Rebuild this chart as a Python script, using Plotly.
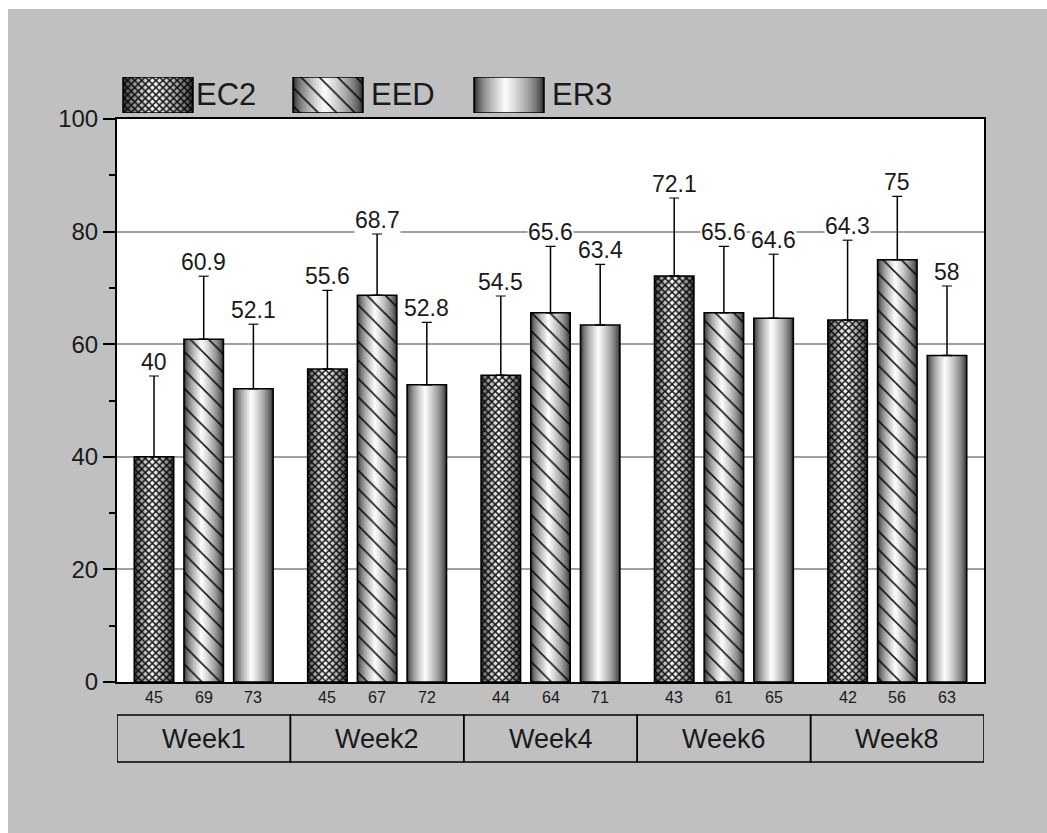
import plotly.graph_objects as go

# ---------------- data ----------------
weeks = ["Week1", "Week2", "Week4", "Week6", "Week8"]
series_names = ["EC2", "EED", "ER3"]
ec2 = [40, 55.6, 54.5, 72.1, 64.3]
eed = [60.9, 68.7, 65.6, 65.6, 75]
er3 = [52.1, 52.8, 63.4, 64.6, 58]
ec2_err = [14.4, 14.0, 14.1, 13.9, 14.2]
eed_err = [11.2, 10.9, 11.8, 11.8, 11.3]
er3_err = [11.5, 11.1, 10.8, 11.4, 12.4]
ec2_n = [45, 45, 44, 43, 42]
eed_n = [69, 67, 64, 61, 56]
er3_n = [73, 72, 71, 65, 63]
y_ticks = [0, 20, 40, 60, 80, 100]

values = [ec2, eed, er3]
errors = [ec2_err, eed_err, er3_err]
counts = [ec2_n, eed_n, er3_n]
patterns = ["x", "\\", ""]

# ---------------- styling / layout constants ----------------
FONT = "Arial, Liberation Sans, sans-serif"
TXT = "#1a1a1a"
FW, FH = 1047, 833
ML, MT = 117, 70
PW, PH = 867, 612
MR, MB = FW - ML - PW, FH - MT - PH
YDOM_TOP = 563 / PH
SLOT = 0.2866          # distance between bars within a group (category units)
BAR_W = 0.228          # bar width (category units)
N_LAYERS = 24
HL = 0.45              # position of highlight across the bar


def py2paper(py):
    return (682 - py) / PH


def px2paper(px):
    return (px - ML) / PW


def gray(t):
    v = int(round(35 + 220 * t ** 0.6))
    return f"rgb({v},{v},{v})"


def pat(shape):
    size, sol = (5, 0.5) if shape == "x" else (13, 0.12)
    return dict(shape=shape, size=size, solidity=sol, fgcolor="black",
                bgcolor="rgba(0,0,0,0)", fillmode="replace", fgopacity=0.9)


fig = go.Figure()

centers = [[i + (s - 1) * SLOT for i in range(len(weeks))] for s in range(3)]
all_c = [c for s in range(3) for c in centers[s]]
all_v = [v for s in range(3) for v in values[s]]

# cylinder gradient: nested layers
for k in range(N_LAYERS):
    t = k / N_LAYERS
    left = -BAR_W / 2 + t * HL * BAR_W
    right = BAR_W / 2 - t * (1 - HL) * BAR_W
    mid = (left + right) / 2
    fig.add_trace(go.Bar(
        x=[c + mid for c in all_c], y=all_v, width=right - left,
        marker=dict(color=gray(t), line=dict(width=0)),
        hoverinfo="skip", showlegend=False))

for s in range(3):
    if patterns[s]:
        fig.add_trace(go.Bar(
            x=centers[s], y=values[s], width=BAR_W,
            marker=dict(color="rgba(0,0,0,0)", line=dict(width=0),
                        pattern=pat(patterns[s])),
            hoverinfo="skip", showlegend=False))

for s in range(3):
    fig.add_trace(go.Bar(
        x=centers[s], y=values[s], width=BAR_W, name=series_names[s],
        marker=dict(color="rgba(0,0,0,0)", line=dict(color="black", width=1.5)),
        error_y=dict(type="data", array=errors[s], arrayminus=[0] * len(weeks),
                     symmetric=False, visible=True, color="black",
                     thickness=1.5, width=5),
        showlegend=False))

annotations = []
for s in range(3):
    for i in range(len(weeks)):
        annotations.append(dict(
            x=centers[s][i], y=values[s][i] + errors[s][i], xref="x", yref="y",
            text=f"{values[s][i]:g}", showarrow=False, yanchor="bottom",
            bgcolor="white", borderpad=0,
            font=dict(family=FONT, size=23, color=TXT)))
        annotations.append(dict(
            x=centers[s][i], y=py2paper(697), xref="x", yref="paper",
            text=str(counts[s][i]), showarrow=False, yanchor="middle",
            font=dict(family=FONT, size=16, color=TXT)))

shapes = [dict(type="rect", xref="x domain", yref="y domain", layer="below",
               x0=0, x1=1, y0=0, y1=1, fillcolor="white", line=dict(width=0)),
          # white page margin strips at top and left
          dict(type="rect", xref="paper", yref="paper", layer="below",
               x0=px2paper(0), x1=px2paper(FW), y0=py2paper(9), y1=py2paper(0),
               fillcolor="white", line=dict(width=0)),
          dict(type="rect", xref="paper", yref="paper", layer="below",
               x0=px2paper(0), x1=px2paper(8), y0=py2paper(FH), y1=py2paper(0),
               fillcolor="white", line=dict(width=0))]
for i, wk in enumerate(weeks):
    shapes.append(dict(type="rect", xref="x", yref="paper",
                       x0=i - 0.5, x1=i + 0.5, y0=py2paper(715), y1=py2paper(762),
                       line=dict(color="black", width=1.5)))
    annotations.append(dict(x=i, y=py2paper(738.5), xref="x", yref="paper",
                            text=wk, showarrow=False, yanchor="middle",
                            font=dict(family=FONT, size=27, color=TXT)))

# ---------------- custom legend (separate axes, pixel units) ----------------
SW_C = [158, 328, 509]
SW_W = 70
LBL_X = [194, 369, 550]
for k in range(N_LAYERS):
    t = k / N_LAYERS
    left = -SW_W / 2 + t * HL * SW_W
    right = SW_W / 2 - t * (1 - HL) * SW_W
    mid = (left + right) / 2
    fig.add_trace(go.Bar(
        x=[c + mid for c in SW_C], y=[1, 1, 1], width=right - left,
        xaxis="x2", yaxis="y2",
        marker=dict(color=gray(t), line=dict(width=0)),
        hoverinfo="skip", showlegend=False))
for s in range(3):
    if patterns[s]:
        fig.add_trace(go.Bar(
            x=[SW_C[s]], y=[1], width=SW_W, xaxis="x2", yaxis="y2",
            marker=dict(color="rgba(0,0,0,0)", line=dict(width=0),
                        pattern=pat(patterns[s])),
            hoverinfo="skip", showlegend=False))
    fig.add_trace(go.Bar(
        x=[SW_C[s]], y=[1], width=SW_W, xaxis="x2", yaxis="y2",
        marker=dict(color="rgba(0,0,0,0)", line=dict(color="black", width=1.5)),
        hoverinfo="skip", showlegend=False))
    annotations.append(dict(x=LBL_X[s], y=0.5, xref="x2", yref="y2",
                            text=series_names[s], showarrow=False,
                            xanchor="left", yanchor="middle",
                            font=dict(family=FONT, size=31, color=TXT)))

fig.update_layout(
    width=FW, height=FH,
    margin=dict(l=ML, r=MR, t=MT, b=MB, autoexpand=False),
    paper_bgcolor="#c0c0c0", plot_bgcolor="rgba(0,0,0,0)",
    barmode="overlay", showlegend=False,
    font=dict(family=FONT, color=TXT),
    xaxis=dict(range=[-0.5, len(weeks) - 0.5], showticklabels=False, ticks="",
               showgrid=False, zeroline=False, showline=True, linecolor="black",
               linewidth=2, mirror=True, fixedrange=True),
    yaxis=dict(domain=[0, YDOM_TOP], range=[0, 100], tickvals=y_ticks,
               ticks="outside", ticklen=12, tickwidth=1.5, tickcolor="black",
               minor=dict(dtick=10, ticks="outside", ticklen=6, tickwidth=1.5,
                          tickcolor="black", showgrid=False),
               showgrid=True, gridcolor="#a0a0a0", gridwidth=1.5,
               zeroline=False, showline=True, linecolor="black", linewidth=2,
               mirror=True, tickfont=dict(family=FONT, size=24, color=TXT),
               fixedrange=True),
    xaxis2=dict(domain=[0, 1], anchor="y2", range=[ML, ML + PW], visible=False,
                fixedrange=True),
    yaxis2=dict(domain=[py2paper(113), py2paper(77)], anchor="x2", range=[0, 1],
                visible=False, fixedrange=True),
    annotations=annotations,
    shapes=shapes,
)

fig.write_html("out.html",
               config={"displayModeBar": False},
               post_script="document.body.style.margin='0';"
                           "document.body.style.overflow='hidden';")
